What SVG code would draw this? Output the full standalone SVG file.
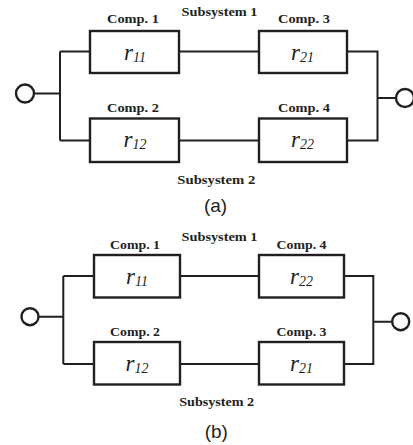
<svg xmlns="http://www.w3.org/2000/svg" width="413" height="445" viewBox="0 0 413 445">
  <style>
    .box { fill: #fff; stroke: #231f20; stroke-width: 2.4; }
    .wire { fill: none; stroke: #231f20; stroke-width: 2; }
    .term { fill: #fff; stroke: #231f20; stroke-width: 2.4; }
    .lbl { font-family: "Liberation Serif", serif; font-weight: bold; font-size: 12.5px; fill: #231f20; text-anchor: middle; }
    .val { font-family: "Liberation Serif", serif; font-style: italic; font-size: 23px; fill: #231f20; text-anchor: middle; }
    .sub { font-size: 14px; }
    .cap { font-family: "Liberation Sans", sans-serif; font-size: 19px; fill: #231f20; text-anchor: middle; }
  </style>

  <!-- ===== Panel (a) ===== -->
  <g id="a-wires">
    <path class="wire" d="M34 93.5H60M60 51.5V140.5M60 51.5H90M60 140.5H90"/>
    <path class="wire" d="M179 51.5H259M179 140.5H259"/>
    <path class="wire" d="M347 51.5H377.5V140.5H347M377.5 98H396"/>
  </g>
  <g id="a-in"><circle class="term" cx="25" cy="93.5" r="9"/></g>
  <g id="a-out"><circle class="term" cx="405" cy="98" r="9"/></g>
  <g id="a-comp1">
    <rect class="box" x="90" y="31" width="89" height="42"/>
    <text class="lbl" x="133" y="23" textLength="52" lengthAdjust="spacingAndGlyphs">Comp. 1</text>
    <text class="val" x="135" y="59.5">r<tspan class="sub" dy="2">11</tspan></text>
  </g>
  <g id="a-comp3">
    <rect class="box" x="259" y="31" width="88" height="42"/>
    <text class="lbl" x="304" y="23" textLength="52" lengthAdjust="spacingAndGlyphs">Comp. 3</text>
    <text class="val" x="302.5" y="59.5">r<tspan class="sub" dy="2">21</tspan></text>
  </g>
  <g id="a-comp2">
    <rect class="box" x="90" y="118.5" width="89" height="43.5"/>
    <text class="lbl" x="133" y="112" textLength="52" lengthAdjust="spacingAndGlyphs">Comp. 2</text>
    <text class="val" x="135" y="147">r<tspan class="sub" dy="2">12</tspan></text>
  </g>
  <g id="a-comp4">
    <rect class="box" x="259" y="118.5" width="88" height="43.5"/>
    <text class="lbl" x="304" y="112" textLength="52" lengthAdjust="spacingAndGlyphs">Comp. 4</text>
    <text class="val" x="302.5" y="147">r<tspan class="sub" dy="2">22</tspan></text>
  </g>
  <text class="lbl" x="219.5" y="15.5" textLength="76" lengthAdjust="spacingAndGlyphs">Subsystem 1</text>
  <text class="lbl" x="216.3" y="183.5" textLength="78" lengthAdjust="spacingAndGlyphs">Subsystem 2</text>
  <text class="cap" x="215.5" y="211.5">(a)</text>

  <!-- ===== Panel (b) ===== -->
  <g id="b-wires">
    <path class="wire" d="M39 316.7H63.3M63.3 276V364M63.3 276H94M63.3 364H94"/>
    <path class="wire" d="M180 276H259M180 364H259"/>
    <path class="wire" d="M344 276H373.3V364H344M373.3 321.7H392"/>
  </g>
  <g id="b-in"><circle class="term" cx="30" cy="316.7" r="8.5"/></g>
  <g id="b-out"><circle class="term" cx="400.7" cy="321.7" r="8.5"/></g>
  <g id="b-comp1">
    <rect class="box" x="94" y="255" width="86" height="42.5"/>
    <text class="lbl" x="135" y="249" textLength="50" lengthAdjust="spacingAndGlyphs">Comp. 1</text>
    <text class="val" x="137" y="283.5">r<tspan class="sub" dy="2">11</tspan></text>
  </g>
  <g id="b-comp4">
    <rect class="box" x="259" y="255" width="85" height="42.5"/>
    <text class="lbl" x="301.5" y="249" textLength="50" lengthAdjust="spacingAndGlyphs">Comp. 4</text>
    <text class="val" x="301.5" y="283.5">r<tspan class="sub" dy="2">22</tspan></text>
  </g>
  <g id="b-comp2">
    <rect class="box" x="94" y="342" width="86" height="42.5"/>
    <text class="lbl" x="135" y="336" textLength="50" lengthAdjust="spacingAndGlyphs">Comp. 2</text>
    <text class="val" x="137" y="370.5">r<tspan class="sub" dy="2">12</tspan></text>
  </g>
  <g id="b-comp3">
    <rect class="box" x="259" y="342" width="85" height="42.5"/>
    <text class="lbl" x="301.5" y="336" textLength="50" lengthAdjust="spacingAndGlyphs">Comp. 3</text>
    <text class="val" x="301.5" y="370.5">r<tspan class="sub" dy="2">21</tspan></text>
  </g>
  <text class="lbl" x="219.5" y="241" textLength="76" lengthAdjust="spacingAndGlyphs">Subsystem 1</text>
  <text class="lbl" x="216.7" y="405.5" textLength="75" lengthAdjust="spacingAndGlyphs">Subsystem 2</text>
  <text class="cap" x="216.3" y="437.5">(b)</text>
</svg>
